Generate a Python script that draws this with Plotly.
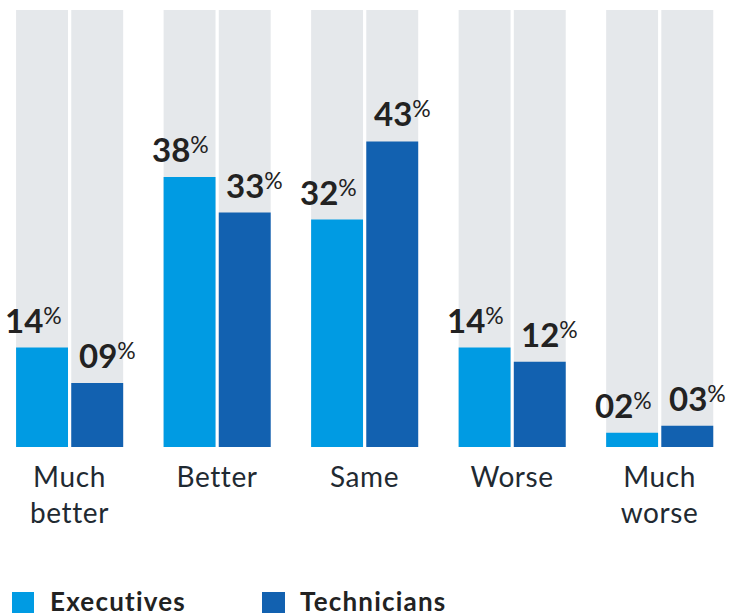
import plotly.graph_objects as go

# Survey answers, share of respondents (%)
categories = ["Much<br>better", "Better", "Same", "Worse", "Much<br>worse"]
executives = [14, 38, 32, 14, 2]
technicians = [9, 33, 43, 12, 3]
series_names = ["Executives", "Technicians"]

# Full-height track drawn behind every bar
SCALE_MAX = 61.5

EXEC_COLOR = "#009be3"
TECH_COLOR = "#1261b0"
TRACK_COLOR = "#e5e8eb"
TEXT_COLOR = "#222222"
AXIS_TEXT_COLOR = "#1f2a32"
FONT = "Lato"

BAR_W = 0.352
EXEC_OFF = -0.362
TECH_OFF = 0.012

xs = list(range(len(categories)))

fig = go.Figure()

for off in (EXEC_OFF, TECH_OFF):
    fig.add_trace(go.Bar(
        x=xs, y=[SCALE_MAX] * len(xs), width=BAR_W, offset=off,
        marker=dict(color=TRACK_COLOR, line=dict(width=0)),
        hoverinfo="skip", showlegend=False,
    ))

for name, vals, off, color in ((series_names[0], executives, EXEC_OFF, EXEC_COLOR),
                               (series_names[1], technicians, TECH_OFF, TECH_COLOR)):
    fig.add_trace(go.Bar(
        x=xs, y=vals, width=BAR_W, offset=off, name=name,
        marker=dict(color=color, line=dict(width=0)),
        showlegend=False,
    ))

# Value labels above each bar; the small "%" sits level with the top of the digits
PCT = "<sup><sub><span style='font-size:23px'>%</span></sub></sup>"
for vals, off, shift in ((executives, EXEC_OFF, -9), (technicians, TECH_OFF, 10)):
    for i, v in enumerate(vals):
        fig.add_annotation(
            x=i + off + BAR_W / 2, y=v, xref="x", yref="y",
            text=f"<b>{v:02d}</b>{PCT}",
            showarrow=False, xanchor="center", yanchor="bottom",
            xshift=shift, yshift=6,
            font=dict(family=FONT, size=33, color=TEXT_COLOR),
        )

# Legend: coloured squares with bold names underneath the chart
plot_top, plot_bottom, fig_w = 10, 447, 737
plot_h = plot_bottom - plot_top


def py(px):
    return (plot_bottom - px) / plot_h


for (x0, x1, tx), name, color in (((12, 34, 48), series_names[0], EXEC_COLOR),
                                  ((262, 285, 298), series_names[1], TECH_COLOR)):
    fig.add_shape(type="rect", xref="paper", yref="paper",
                  x0=x0 / fig_w, x1=x1 / fig_w, y0=py(613), y1=py(592),
                  fillcolor=color, line=dict(width=0))
    fig.add_annotation(x=tx / fig_w, y=py(601), xref="paper", yref="paper",
                       text=f"<span style='letter-spacing:1.2px'><b>{name}</b></span>",
                       showarrow=False, xanchor="left", yanchor="middle",
                       font=dict(family=FONT, size=26, color=TEXT_COLOR))

ticktext = ["<br>".join(f"<span style='letter-spacing:0.6px'>{part}</span>"
                        for part in c.split("<br>")) for c in categories]

fig.update_layout(
    width=737, height=616,
    margin=dict(l=0, r=0, t=plot_top, b=616 - plot_bottom),
    paper_bgcolor="white", plot_bgcolor="white",
    barmode="overlay",
    showlegend=False,
    font=dict(family=FONT, color=TEXT_COLOR),
    xaxis=dict(
        range=[-0.471, 4.525], tickvals=xs, ticktext=ticktext,
        showgrid=False, zeroline=False, showline=False, ticks="",
        tickfont=dict(family=FONT, size=28, color=AXIS_TEXT_COLOR),
        ticklabelstandoff=11,
    ),
    yaxis=dict(range=[0, SCALE_MAX], visible=False),
)

fig.write_html("out.html")
